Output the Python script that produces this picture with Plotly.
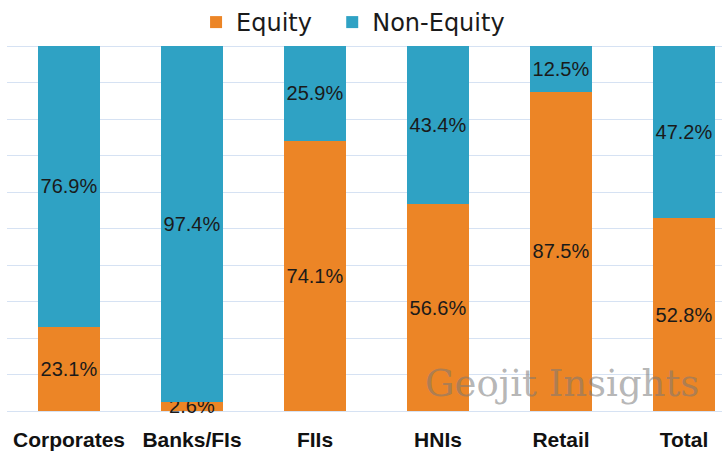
import plotly.graph_objects as go

categories = ["Corporates", "Banks/FIs", "FIIs", "HNIs", "Retail", "Total"]
equity = [23.1, 2.6, 74.1, 56.6, 87.5, 52.8]
non_equity = [76.9, 97.4, 25.9, 43.4, 12.5, 47.2]

ORANGE = "#EC8526"
BLUE = "#2FA2C4"
LABEL_FONT = dict(family="Liberation Sans, Arial, sans-serif", size=20, color="#1a1a1a")

fig = go.Figure()
fig.add_trace(go.Bar(
    name="Equity\u00a0\u00a0", x=categories, y=equity,
    marker=dict(color=ORANGE, line=dict(width=0)),
    text=[f"{v}%" for v in equity], textposition="inside", textangle=0,
    insidetextanchor="middle", constraintext="none", cliponaxis=False,
    textfont=LABEL_FONT, hoverinfo="skip",
))
fig.add_trace(go.Bar(
    name="Non-Equity", x=categories, y=non_equity,
    marker=dict(color=BLUE, line=dict(width=0)),
    text=[f"{v}%" for v in non_equity], textposition="inside", textangle=0,
    insidetextanchor="middle", constraintext="none", cliponaxis=False,
    textfont=LABEL_FONT, hoverinfo="skip",
))

fig.add_annotation(
    text="Geojit Insights", xref="paper", yref="paper", x=0.776, y=0.0765,
    xanchor="center", yanchor="middle", showarrow=False,
    font=dict(family="DejaVu Serif, serif", size=37, color="rgba(120,120,120,0.55)"),
)

fig.update_layout(
    width=722, height=460,
    margin=dict(l=7, r=0, t=44, b=49),
    barmode="stack", bargap=0.496,
    plot_bgcolor="white", paper_bgcolor="white",
    showlegend=True,
    legend=dict(
        orientation="h", x=0.484, y=1.062, xanchor="center", yanchor="middle",
        font=dict(family="DejaVu Sans, sans-serif", size=24, color="#1a1a1a"),
        bgcolor="rgba(0,0,0,0)", traceorder="normal",
    ),
    xaxis=dict(
        range=[-0.504, 5.309], showgrid=False, zeroline=False, showline=False,
        tickfont=dict(family="Liberation Sans, Arial, sans-serif", size=21, color="#111111"),
        ticks="", ticklabelstandoff=14,
    ),
    yaxis=dict(
        range=[0, 100.3], dtick=10, showticklabels=False, showgrid=True,
        gridcolor="#D6E2F3", gridwidth=1, zeroline=True, zerolinecolor="#D6E2F3",
        zerolinewidth=1, showline=False, ticks="",
    ),
)
fig.update_xaxes(tickfont_weight="bold")

fig.write_html("out.html", config={"displayModeBar": False},
               post_script="document.body.style.margin='0';")
